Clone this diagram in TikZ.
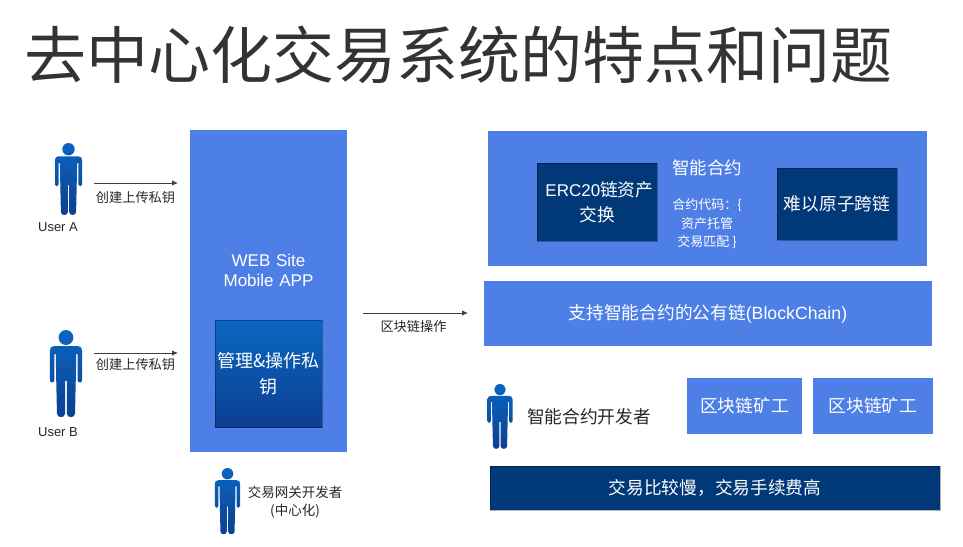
\documentclass[tikz,border=0pt]{standalone}
\usepackage{fontspec}
\setmainfont{Noto Sans CJK SC}
\newfontfamily\enfont{Liberation Sans}
\usetikzlibrary{arrows.meta}
\definecolor{boxblue}{HTML}{4E7FE6}
\definecolor{boxnavy}{HTML}{003878}
\definecolor{figtop}{HTML}{0A66C2}
\definecolor{figbot}{HTML}{0C3F90}
\newcommand{\fsize}[1]{\fontsize{#1}{#1}\selectfont}
\tikzset{
  person/.pic={
    \shade[top color=figtop, bottom color=figbot]
      (0,6.2) circle[radius=6.2]
      (-10,13.3) -- (10,13.3) .. controls (12.5,13.3) and (13.5,15) .. (13.5,17)
      -- (13.5,41.5) .. controls (13.5,44) and (9.8,44) .. (9.8,41.5)
      -- (9.8,20) -- (8.6,20) -- (8.2,42) -- (7.6,69) .. controls (7.6,73) and (0.7,73) .. (0.7,69)
      -- (0.7,42) -- (-0.7,42) -- (-0.7,69) .. controls (-0.7,73) and (-7.6,73) .. (-7.6,69)
      -- (-8.2,42) -- (-8.6,20) -- (-9.8,20) -- (-9.8,41.5) .. controls (-9.8,44) and (-13.5,44) .. (-13.5,41.5)
      -- (-13.5,17) .. controls (-13.5,15) and (-12.5,13.3) .. (-10,13.3) -- cycle;
  },
  softedge/.style={draw=black, draw opacity=0.3, line width=1pt},
  bluebox/.style={fill=boxblue, text=white, inner sep=0pt, outer sep=0pt, align=center, font=\fsize{17.7}},
  navybox/.style={bluebox, fill=boxnavy, softedge},
  usertext/.style={inner sep=0pt, align=center, text=black!85, font=\fsize{13.2}},
  whitetext/.style={inner sep=0pt, align=center, text=white, font=\fsize{18}},
  linkarrow/.style={draw=black!75, line width=1pt, -{Latex[length=6pt,width=5.5pt]}}
}
\begin{document}
\begin{tikzpicture}[x=1pt,y=-1pt]
\useasboundingbox (0,0) rectangle (963,546);
\draw (458.5,55) node[inner sep=0pt, text=black!80, font=\fsize{62}] (title) {去中心化交易系统的特点和问题};

% left side
\draw (268.5,291) node[bluebox, minimum width=157pt, minimum height=322pt] (site) {};
\draw (268.5,270) node[whitetext, text width=150pt, font=\fsize{17}\enfont, align=center] (sitetext) {WEB Site\\[3pt]Mobile APP};
\draw (268.5,373.5) node[bluebox, top color=figtop, bottom color=figbot, minimum width=107pt, minimum height=107pt, text width=104pt, softedge, font=\fsize{18}] (keybox) {管理\&操作私\\[8pt]钥};

\pic[xscale=1, yscale=1] (usera) at (68.5,143) {person};
\pic[xscale=1.19, yscale=1.21] (userb) at (66,330) {person};
\pic[xscale=0.93, yscale=0.92] (gatedev) at (227.5,468) {person};
\pic[xscale=0.93, yscale=0.9] (chaindev) at (500,384) {person};

\draw (58,227) node[usertext, font=\fsize{13}\enfont] (labela) {User A};
\draw (58,432) node[usertext, font=\fsize{13}\enfont] (labelb) {User B};
\draw (135.5,198) node[usertext] (uploada) {创建上传私钥};
\draw (135.5,365) node[usertext] (uploadb) {创建上传私钥};
\draw (295,502) node[usertext, font=\fsize{13.5}] (gatetext) {交易网关开发者\\[5pt](中心化)};

\coordinate (a1) at (94,183);
\coordinate (a2) at (178,183);
\coordinate (b1) at (94,353);
\coordinate (b2) at (178,353);
\coordinate (c1) at (363,313);
\coordinate (c2) at (468,313);
\draw[linkarrow] (a1) -- (a2);
\draw[linkarrow] (b1) -- (b2);
\draw[linkarrow, line width=0.8pt] (c1) -- (c2);
\draw (413.5,326) node[usertext] (optext) {区块链操作};

% right side
\draw (707.5,198.5) node[bluebox, minimum width=439pt, minimum height=135pt] (contract) {};
\draw (597,202) node[navybox, minimum width=120pt, minimum height=78pt] (erc) {{\enfont\fsize{17} ERC20}链资产\\[7pt]交换};
\draw (837,204) node[navybox, minimum width=120pt, minimum height=72pt] (hard) {难以原子跨链};
\draw (707,168) node[whitetext, font=\fsize{17.5}] (smart) {智能合约};
\draw (707,224) node[whitetext, font=\fsize{13}] (code) {合约代码：\{\\[5pt]资产托管\\[5pt]交易匹配 \}};

\draw (708,313.5) node[bluebox, minimum width=448pt, minimum height=65pt] (chain) {支持智能合约的公有链{\enfont (BlockChain)}};
\draw (744.5,406) node[bluebox, minimum width=115pt, minimum height=56pt] (minera) {区块链矿工};
\draw (873,406) node[bluebox, minimum width=120pt, minimum height=56pt] (minerb) {区块链矿工};
\draw (589,417) node[usertext, font=\fsize{17.7}] (devtext) {智能合约开发者};
\draw (715,488) node[navybox, minimum width=450pt, minimum height=44pt] (slow) {交易比较慢，交易手续费高};
\end{tikzpicture}
\end{document}
